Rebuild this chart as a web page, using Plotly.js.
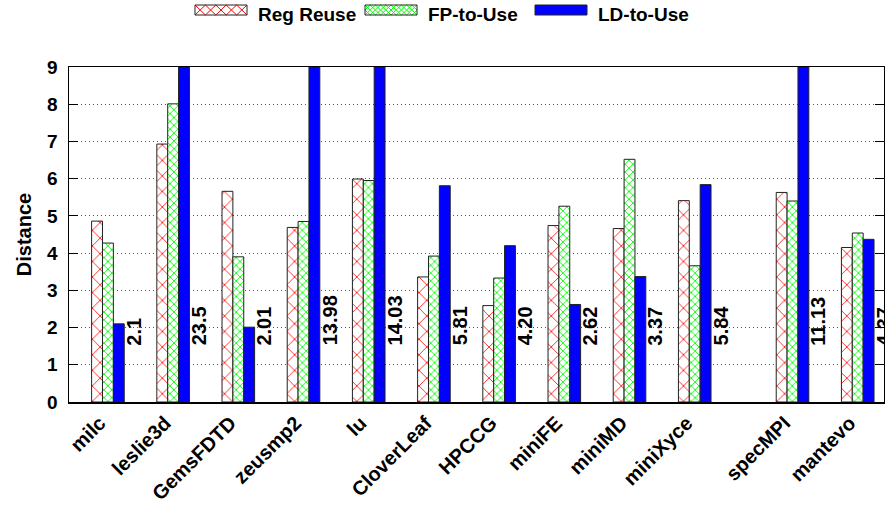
<!DOCTYPE html>
<html>
<head>
<meta charset="utf-8">
<script src="https://cdn.plot.ly/plotly-3.0.1.min.js"></script>
<style>html,body{margin:0;padding:0;background:#fff;}#chart{width:885px;height:508px;}</style>
</head>
<body>
<div id="chart"></div>
<script>
// ---- data ----
const categories = ["milc","leslie3d","GemsFDTD","zeusmp2","lu","CloverLeaf","HPCCG","miniFE","miniMD","miniXyce","specMPI","mantevo"];
const regReuse = [4.86, 6.93, 5.66, 4.69, 5.99, 3.36, 2.59, 4.74, 4.66, 5.41, 5.63, 4.15];
const fpToUse  = [4.27, 8.01, 3.90, 4.85, 5.95, 3.92, 3.33, 5.26, 6.52, 3.66, 5.40, 4.54];
const ldToUse  = [2.10, 23.5, 2.01, 13.98, 14.03, 5.81, 4.20, 2.62, 3.37, 5.84, 11.13, 4.37];
const ldLabels = ["2.1","23.5","2.01","13.98","14.03","5.81","4.20","2.62","3.37","5.84","11.13","4.37"];
const seriesNames = ["Reg Reuse","FP-to-Use","LD-to-Use"];
const yTicks = [0,1,2,3,4,5,6,7,8,9];
// a half-slot gap separates the last two groups (separate histogram block)
const gapAfterIndex = 9;
const gapSize = 0.5;

// ---- layout helpers ----
const W = 885, H = 508;
const M = { l: 69, r: 1, t: 67, b: 106 };
const PW = W - M.l - M.r, PH = H - M.t - M.b;
const px2x = p => (p - M.l) / PW;           // page px -> paper x
const py2y = p => (H - M.b - p) / PH;       // page px -> paper y

const xPos = categories.map((c, i) => i + (i > gapAfterIndex ? gapSize : 0));
const FONT = "Liberation Sans, Arial, Helvetica, sans-serif";
const RED = "#ff0000", GREEN = "#00ff00", BLUE = "#0000ff";

const traces = [
  { type: "bar", name: seriesNames[0], x: xPos, y: regReuse,
    marker: { color: "white", line: { color: "#222", width: 1 },
      pattern: { shape: "x", fgcolor: RED, bgcolor: "white", size: 11, solidity: 0.14 } } },
  { type: "bar", name: seriesNames[1], x: xPos, y: fpToUse,
    marker: { color: "white", line: { color: "#222", width: 1 },
      pattern: { shape: "x", fgcolor: GREEN, bgcolor: "white", size: 5.5, solidity: 0.3 } } },
  { type: "bar", name: seriesNames[2], x: xPos, y: ldToUse,
    marker: { color: BLUE, line: { color: "#222", width: 1 } } }
];

const annotations = ldLabels.map((t, i) => ({
  x: xPos[i] + 0.4, y: 1.46, xref: "x", yref: "y",
  text: t, showarrow: false, textangle: -90,
  xanchor: "center", yanchor: "bottom",
  font: { family: FONT, size: 20, color: "#000", weight: "bold" }
}));

// ---- custom legend (wide hatched keys like the original) ----
const keyLeft = [195, 365, 535], keyW = 52, keyTop = 5, keyBot = 15, textGap = 9;
const shapes = [];
function crossPath(x0, x1, y0, y1, cell) {
  let d = "";
  const rows = Math.max(1, Math.round((y1 - y0) / cell));
  const cols = Math.max(1, Math.round((x1 - x0) / cell));
  const cw = (x1 - x0) / cols, ch = (y1 - y0) / rows;
  for (let r = 0; r < rows; r++) for (let c = 0; c < cols; c++) {
    const a = x0 + c * cw, b = a + cw, t = y0 + r * ch, u = t + ch;
    d += `M${px2x(a)},${py2y(t)}L${px2x(b)},${py2y(u)}M${px2x(a)},${py2y(u)}L${px2x(b)},${py2y(t)}`;
  }
  return d;
}
const legendStyles = [
  { fill: "white", hatch: RED, cell: 10.4 },
  { fill: "white", hatch: GREEN, cell: 5.2 },
  { fill: BLUE, hatch: null }
];
legendStyles.forEach((s, i) => {
  const x0 = keyLeft[i], x1 = x0 + keyW;
  shapes.push({ type: "rect", xref: "paper", yref: "paper",
    x0: px2x(x0), x1: px2x(x1), y0: py2y(keyBot), y1: py2y(keyTop),
    fillcolor: s.fill, line: { width: 0 }, layer: "above" });
  if (s.hatch) shapes.push({ type: "path", xref: "paper", yref: "paper",
    path: crossPath(x0, x1, keyTop, keyBot, s.cell), line: { color: s.hatch, width: 1 }, layer: "above" });
  shapes.push({ type: "rect", xref: "paper", yref: "paper",
    x0: px2x(x0), x1: px2x(x1), y0: py2y(keyBot), y1: py2y(keyTop),
    fillcolor: "rgba(0,0,0,0)", line: { color: "#222", width: 1 }, layer: "above" });
  annotations.push({ xref: "paper", yref: "paper", x: px2x(x1 + textGap), y: py2y(14),
    xanchor: "left", yanchor: "middle", showarrow: false, text: seriesNames[i],
    font: { family: FONT, size: 19, color: "#000", weight: "bold" } });
});

const layout = {
  width: W, height: H, margin: M,
  paper_bgcolor: "white", plot_bgcolor: "white",
  font: { family: FONT, size: 19, color: "#000", weight: "bold" },
  barmode: "group", bargap: 0.5, bargroupgap: 0,
  showlegend: false,
  xaxis: {
    type: "linear", range: [-0.597, 11.903],
    tickmode: "array", tickvals: xPos, ticktext: categories,
    tickangle: -45, ticks: "", showgrid: false, zeroline: false,
    showline: true, linecolor: "#000", linewidth: 1.5, mirror: true,
    ticklabelshift: -8,
    tickfont: { family: FONT, size: 20, weight: "bold" }
  },
  yaxis: {
    range: [0, 9], tickmode: "array", tickvals: yTicks,
    ticks: "inside", ticklen: 9, tickcolor: "#000", tickwidth: 1,
    showline: true, linecolor: "#000", linewidth: 1.5, mirror: "ticks",
    showgrid: true, gridcolor: "#555", griddash: "1px,3px", gridwidth: 1,
    zeroline: false, ticklabelstandoff: 6, ticklabelshift: 2.5,
    tickfont: { family: FONT, size: 19, weight: "bold" },
    title: { text: "Distance", font: { family: FONT, size: 20, weight: "bold" }, standoff: 10 }
  },
  shapes: shapes,
  annotations: annotations
};

Plotly.newPlot("chart", traces, layout, { displayModeBar: false, staticPlot: true });
</script>
</body>
</html>
